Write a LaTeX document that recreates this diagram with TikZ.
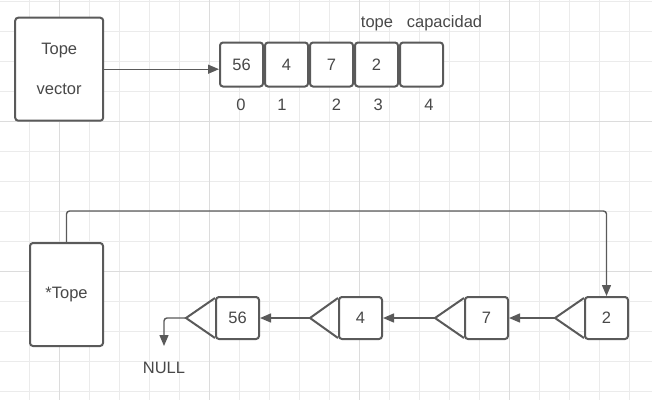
\documentclass[tikz,border=0pt]{standalone}
\usepackage{fontspec}
\setmainfont{Liberation Sans}
\usetikzlibrary{arrows.meta}
\definecolor{ln}{HTML}{5A5A5A}
\definecolor{tx}{HTML}{484848}
\definecolor{gmin}{HTML}{EBEBEB}
\definecolor{gmaj}{HTML}{DCDCDC}
\begin{document}
\begin{tikzpicture}[x=1pt,y=-1pt,
  box/.style={draw=ln,line width=2pt,rounded corners=3pt,fill=white,text=tx,
    font=\fontsize{16.5}{19}\selectfont,inner sep=0pt},
  lbl/.style={text=tx,font=\fontsize{16.5}{19}\selectfont,inner sep=0pt,anchor=base},
  conn/.style={draw=ln,line width=1.4pt,-{Triangle[length=11pt,width=9pt]}},
  tri/.style={draw=ln,line width=2pt,line join=miter}]
\useasboundingbox (0,0) rectangle (652,400);
\fill[white] (0,0) rectangle (652,400);
% grid
\foreach \x in {29.7,59.7,...,652} \draw[gmin,line width=1pt] (\x,0) -- (\x,400);
\foreach \y in {1.7,31.7,...,400} \draw[gmin,line width=1pt] (0,\y) -- (652,\y);
\foreach \x in {59.7,209.7,359.7,509.7} \draw[gmaj,line width=1pt] (\x,0) -- (\x,400);
\foreach \y in {121.7,271.7} \draw[gmaj,line width=1pt] (0,\y) -- (652,\y);
% top part
\node[box,minimum width=88pt,minimum height=103pt,align=center] (tv) at (59.2,69.2) {Tope\\[21pt]vector};
\foreach \n/\x/\t in {c0/241.5/56,c1/286.5/4,c2/331.5/7,c3/376.5/2,c4/421.5/{}}
  \node[box,minimum width=43pt,minimum height=44pt] (\n) at (\x,64.5) {\t};
\node[lbl] (i0) at (241,110.7) {0};
\node[lbl] (i1) at (282,110.7) {1};
\node[lbl] (i2) at (336.5,110.7) {2};
\node[lbl] (i3) at (378.3,110.7) {3};
\node[lbl] (i4) at (429,110.7) {4};
\node[lbl] (ltope) at (377,27.5) {tope};
\node[lbl] (lcap) at (444.5,27.5) {capacidad};
\draw[conn] (tv.east) -- (tv.east -| c0.west);
% bottom part
\node[box,minimum width=73pt,minimum height=103pt] (pt) at (66.5,294.5) {*Tope};
\foreach \n/\x/\t in {b56/237.5/56,b4/360.5/4,b7/486.5/7,b2/606.5/2}
  \node[box,minimum width=43pt,minimum height=42pt] (\n) at (\x,318) {\t};
\coordinate (t56) at (186,318);
\coordinate (t4) at (310,318);
\coordinate (t7) at (435,318);
\coordinate (t2) at (555,318);
\draw[tri] (b56.west |- 0,298) -- (t56) -- (b56.west |- 0,338);
\draw[tri] (b4.west |- 0,298) -- (t4) -- (b4.west |- 0,338);
\draw[tri] (b7.west |- 0,298) -- (t7) -- (b7.west |- 0,338);
\draw[tri] (b2.west |- 0,298) -- (t2) -- (b2.west |- 0,338);
\draw[conn] (t2) -- (b7.east);
\draw[conn] (t7) -- (b4.east);
\draw[conn] (t4) -- (b56.east);
\coordinate (topy) at (0,211);
\draw[conn,rounded corners=3pt] (pt.north) -- (pt.north |- topy) -- (b2.north |- topy) -- (b2.north);
\node[lbl] (null) at (164,373.7) {NULL};
\coordinate (nullend) at (164,346);
\draw[conn,rounded corners=3pt] (t56) -- (t56 -| nullend) -- (nullend);
\end{tikzpicture}
\end{document}
